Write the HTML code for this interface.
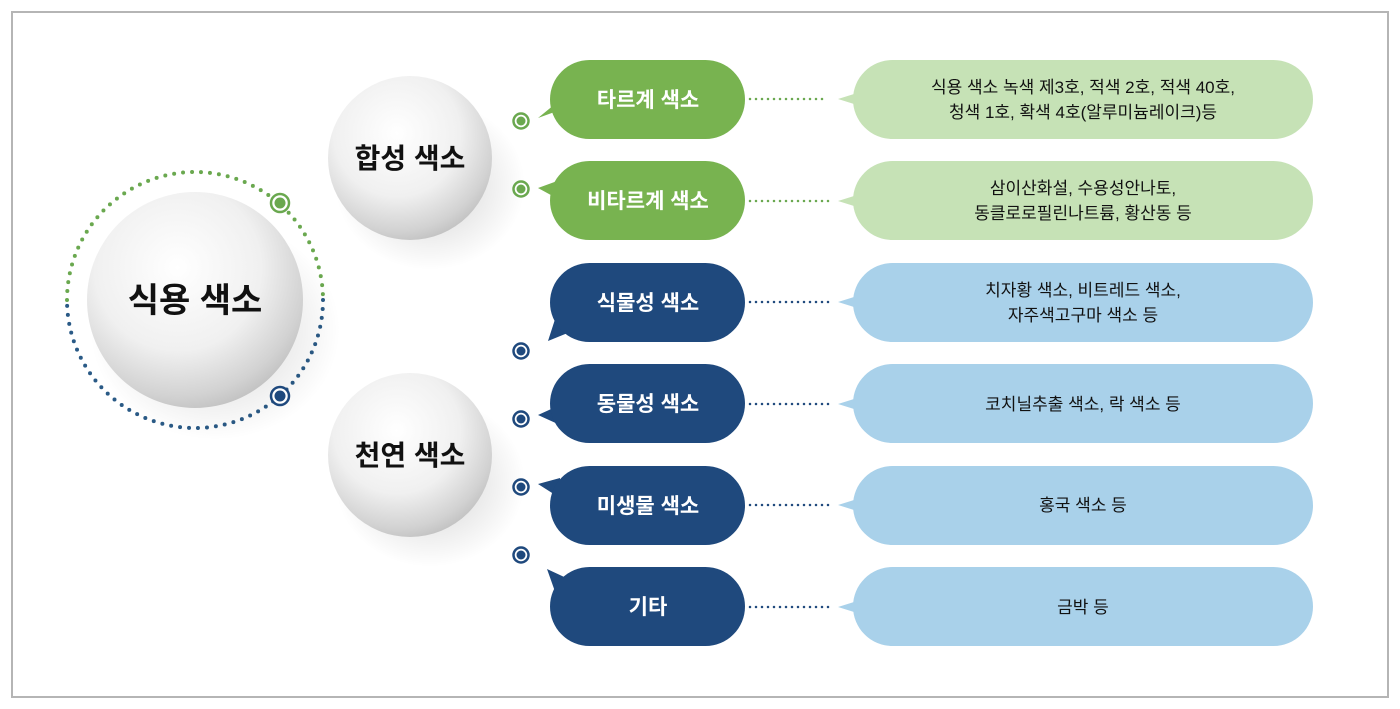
<!DOCTYPE html>
<html><head><meta charset="utf-8"><style>
body{margin:0;background:#fff}
svg{display:block}
text{font-family:"Liberation Sans","Noto Sans CJK KR",sans-serif}
</style></head><body>
<svg width="1400" height="709" viewBox="0 0 1400 709">
<defs>
<radialGradient id="ball" cx="0.42" cy="0.35" r="0.7">
<stop offset="0" stop-color="#ffffff"/><stop offset="0.55" stop-color="#f0f0f0"/><stop offset="0.85" stop-color="#d2d2d2"/><stop offset="1" stop-color="#bdbdbd"/>
</radialGradient>
<radialGradient id="sh" cx="0.5" cy="0.5" r="0.5">
<stop offset="0" stop-color="#000" stop-opacity="0.18"/><stop offset="1" stop-color="#000" stop-opacity="0"/>
</radialGradient>
</defs>
<rect x="12" y="12" width="1376" height="685" fill="#fff" stroke="#b5b5b5" stroke-width="2"/>
<!-- ring -->
<path d="M67,300 A128,128 0 0 1 323,300" fill="none" stroke="#6aa84f" stroke-width="4" stroke-dasharray="0 9" stroke-linecap="round"/>
<path d="M323,300 A128,128 0 0 1 67,300" fill="none" stroke="#2a5a86" stroke-width="4" stroke-dasharray="0 9" stroke-linecap="round"/>
<ellipse cx="215" cy="330" rx="125" ry="110" fill="url(#sh)"/>
<circle cx="195" cy="300" r="108" fill="url(#ball)"/>
<text x="195" y="312" font-size="34" font-weight="bold" text-anchor="middle" fill="#111">식용 색소</text>
<circle cx="280" cy="203" r="9" fill="#fff" stroke="#6aa84f" stroke-width="2.5"/><circle cx="280" cy="203" r="5.5" fill="#6aa84f"/>
<circle cx="280" cy="396" r="9" fill="#fff" stroke="#1f497d" stroke-width="2.5"/><circle cx="280" cy="396" r="5.5" fill="#1f497d"/>
<ellipse cx="430" cy="185" rx="95" ry="85" fill="url(#sh)"/>
<circle cx="410" cy="158" r="82" fill="url(#ball)"/>
<text x="410" y="168" font-size="28" font-weight="bold" text-anchor="middle" fill="#111">합성 색소</text>
<ellipse cx="430" cy="482" rx="95" ry="85" fill="url(#sh)"/>
<circle cx="410" cy="455" r="82" fill="url(#ball)"/>
<text x="410" y="465" font-size="28" font-weight="bold" text-anchor="middle" fill="#111">천연 색소</text>

<g font-size="21" font-weight="bold" fill="#fff" text-anchor="middle">
<!-- row1 -->
<path d="M538,118 L560,110 L560,100 Z" fill="#78b350"/>
<rect x="550" y="60" width="195" height="79" rx="39.5" fill="#78b350"/>
<text x="648" y="107">타르계 색소</text>
<!-- row2 -->
<path d="M538,188 L560,180 L560,200 Z" fill="#78b350"/>
<rect x="550" y="161" width="195" height="79" rx="39.5" fill="#78b350"/>
<text x="648" y="208">비타르계 색소</text>
<!-- row3 -->
<path d="M548,341 L558,310 L575,330 Z" fill="#1f497d"/>
<rect x="550" y="263" width="195" height="79" rx="39.5" fill="#1f497d"/>
<text x="648" y="310">식물성 색소</text>
<!-- row4 -->
<path d="M538,415 L560,405 L560,425 Z" fill="#1f497d"/>
<rect x="550" y="364" width="195" height="79" rx="39.5" fill="#1f497d"/>
<text x="648" y="411">동물성 색소</text>
<!-- row5 -->
<path d="M538,484 L560,478 L560,498 Z" fill="#1f497d"/>
<rect x="550" y="466" width="195" height="79" rx="39.5" fill="#1f497d"/>
<text x="648" y="513">미생물 색소</text>
<!-- row6 -->
<path d="M547,569 L575,582 L558,600 Z" fill="#1f497d"/>
<rect x="550" y="567" width="195" height="79" rx="39.5" fill="#1f497d"/>
<text x="648" y="614">기타</text>
</g>
<g fill="#fff" stroke-width="2.5">
<circle cx="521" cy="121" r="7.5" stroke="#6aa84f"/><circle cx="521" cy="121" r="4.5" fill="#6aa84f"/>
<circle cx="521" cy="189" r="7.5" stroke="#6aa84f"/><circle cx="521" cy="189" r="4.5" fill="#6aa84f"/>
<circle cx="521" cy="351" r="7.5" stroke="#1f497d"/><circle cx="521" cy="351" r="4.5" fill="#1f497d"/>
<circle cx="521" cy="419" r="7.5" stroke="#1f497d"/><circle cx="521" cy="419" r="4.5" fill="#1f497d"/>
<circle cx="521" cy="487" r="7.5" stroke="#1f497d"/><circle cx="521" cy="487" r="4.5" fill="#1f497d"/>
<circle cx="521" cy="555" r="7.5" stroke="#1f497d"/><circle cx="521" cy="555" r="4.5" fill="#1f497d"/>
</g>
<g stroke-width="2.5" stroke-dasharray="0 6" stroke-linecap="round">
<line x1="750" y1="99" x2="828" y2="99" stroke="#6aa84f"/>
<line x1="750" y1="201" x2="830" y2="201" stroke="#6aa84f"/>
<line x1="750" y1="302" x2="830" y2="302" stroke="#1f497d"/>
<line x1="750" y1="404" x2="830" y2="404" stroke="#1f497d"/>
<line x1="750" y1="505" x2="830" y2="505" stroke="#1f497d"/>
<line x1="750" y1="607" x2="830" y2="607" stroke="#1f497d"/>
</g>
<g font-size="17" fill="#111" text-anchor="middle">
<path d="M838,99 L870,89 L870,109 Z" fill="#c6e2b6"/>
<rect x="853" y="60" width="460" height="79" rx="39.5" fill="#c6e2b6"/>
<text x="1083" y="93">식용 색소 녹색 제3호, 적색 2호, 적색 40호,</text>
<text x="1083" y="118">청색 1호, 확색 4호(알루미늄레이크)등</text>
<path d="M838,201 L870,191 L870,211 Z" fill="#c6e2b6"/>
<rect x="853" y="161" width="460" height="79" rx="39.5" fill="#c6e2b6"/>
<text x="1083" y="194">삼이산화설, 수용성안나토,</text>
<text x="1083" y="219">동클로로필린나트륨, 황산동 등</text>
<path d="M838,302 L870,292 L870,312 Z" fill="#a9d1ea"/>
<rect x="853" y="263" width="460" height="79" rx="39.5" fill="#a9d1ea"/>
<text x="1083" y="296">치자황 색소, 비트레드 색소,</text>
<text x="1083" y="321">자주색고구마 색소 등</text>
<path d="M838,404 L870,394 L870,414 Z" fill="#a9d1ea"/>
<rect x="853" y="364" width="460" height="79" rx="39.5" fill="#a9d1ea"/>
<text x="1083" y="410">코치닐추출 색소, 락 색소 등</text>
<path d="M838,505 L870,495 L870,515 Z" fill="#a9d1ea"/>
<rect x="853" y="466" width="460" height="79" rx="39.5" fill="#a9d1ea"/>
<text x="1083" y="511">홍국 색소 등</text>
<path d="M838,607 L870,597 L870,617 Z" fill="#a9d1ea"/>
<rect x="853" y="567" width="460" height="79" rx="39.5" fill="#a9d1ea"/>
<text x="1083" y="613">금박 등</text>
</g>
</svg>
</body></html>
